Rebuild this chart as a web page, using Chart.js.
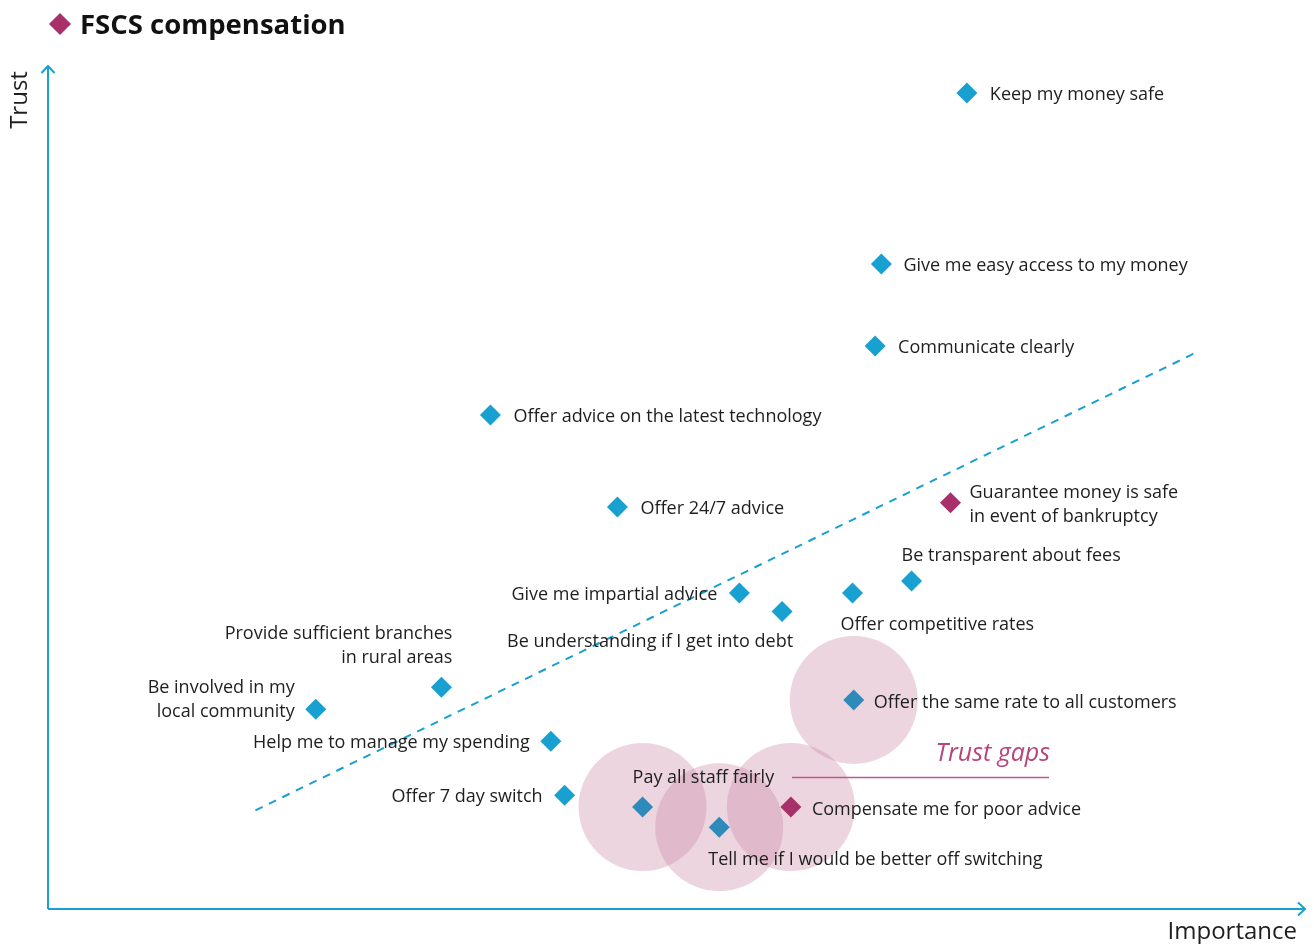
<!DOCTYPE html>
<html>
<head>
<meta charset="utf-8">
<title>FSCS compensation</title>
<script src="https://cdn.jsdelivr.net/npm/chart.js@4.4.1/dist/chart.umd.min.js"></script>
<style>
html, body { margin: 0; padding: 0; background: #fff; }
#wrap { width: 1314px; height: 944px; }
</style>
</head>
<body>
<div id="wrap"><canvas id="chart" width="1314" height="944"></canvas></div>
<script>
// statements (one per point)
const statements = [
    "Keep my money safe",
    "Give me easy access to my money",
    "Communicate clearly",
    "Offer advice on the latest technology",
    "Offer 24/7 advice",
    ["Guarantee money is safe", "in event of bankruptcy"],
    "Be transparent about fees",
    "Give me impartial advice",
    "Be understanding if I get into debt",
    "Offer competitive rates",
    ["Provide sufficient branches", "in rural areas"],
    ["Be involved in my", "local community"],
    "Help me to manage my spending",
    "Offer 7 day switch",
    "Offer the same rate to all customers",
    "Pay all staff fairly",
    "Tell me if I would be better off switching",
    "Compensate me for poor advice"
];
const importance = [73.1, 66.3, 65.8, 35.2, 45.3, 71.8, 68.7, 55.0, 58.4, 64.0, 31.3, 21.3, 40.0, 41.1, 64.1, 47.3, 53.4, 59.1];
const trust      = [96.8, 76.5, 66.8, 58.6, 47.7, 48.2, 38.9, 37.5, 35.3, 37.5, 26.3, 23.7, 19.9, 13.5, 24.8, 12.1,  9.7, 12.1];
const isFscs     = [false, false, false, false, false, true, false, false, false, false, false, false, false, false, false, false, false, true];
const isTrustGap = [false, false, false, false, false, false, false, false, false, false, false, false, false, false, true, true, true, true];

// dashed trend line
const trendImportance = [16.5, 91.6];
const trendTrust = [11.7, 66.2];

const BLUE = "#18a0d0";
const GAP_BLUE = "#2e8bb9";
const MAGENTA = "#a8306a";
const GAP_PINK = "#b8447c";
const TEXT = "#1e1e1e";
const FONT = "'Open Sans', 'DejaVu Sans', sans-serif";

// label placement relative to its point: [dx, dy of first line, align]
const labelPlace = [
    [23, 2, "left"],
    [22, 1.5, "left"],
    [23, 1.5, "left"],
    [23, 2, "left"],
    [23, 2, "left"],
    [19, -10, "left"],
    [-10, -25, "left"],
    [-22, 2, "right"],
    [11, 30, "right"],
    [-12, 32, "left"],
    [11, -53, "right"],
    [-21, -21, "right"],
    [-21, 1.5, "right"],
    [-22, 2, "right"],
    [20, 3, "left"],
    [-10, -29, "left"],
    [-11, 33, "left"],
    [21, 3, "left"]
];

const points = statements.map((s, i) => ({ x: importance[i], y: trust[i] }));
const gapPoints = points.filter((p, i) => isTrustGap[i]);
const pointColors = statements.map((s, i) => isFscs[i] ? MAGENTA : (isTrustGap[i] ? GAP_BLUE : BLUE));

const overlay = {
    id: "overlay",
    afterDraw(chart) {
        const ctx = chart.ctx;
        const area = chart.chartArea;
        ctx.save();

        // axes with open arrow heads
        ctx.strokeStyle = BLUE;
        ctx.lineWidth = 2;
        ctx.beginPath();
        ctx.moveTo(area.left, area.bottom);
        ctx.lineTo(area.left, area.top);
        ctx.moveTo(area.left - 6.5, area.top + 7);
        ctx.lineTo(area.left, area.top);
        ctx.lineTo(area.left + 6.5, area.top + 7);
        ctx.moveTo(area.left, area.bottom);
        ctx.lineTo(area.right, area.bottom);
        ctx.moveTo(area.right - 7, area.bottom - 6.5);
        ctx.lineTo(area.right, area.bottom);
        ctx.lineTo(area.right - 7, area.bottom + 6.5);
        ctx.stroke();

        // axis titles
        ctx.fillStyle = TEXT;
        ctx.font = "24px " + FONT;
        ctx.textBaseline = "middle";
        ctx.textAlign = "right";
        ctx.fillText("Importance", area.right - 8, area.bottom + 23);
        ctx.save();
        ctx.translate(20, 100);
        ctx.rotate(-Math.PI / 2);
        ctx.textAlign = "center";
        ctx.fillText("Trust", 0, 0);
        ctx.restore();

        // heading with diamond marker
        ctx.fillStyle = MAGENTA;
        ctx.beginPath();
        ctx.moveTo(60, 13);
        ctx.lineTo(71, 24);
        ctx.lineTo(60, 35);
        ctx.lineTo(49, 24);
        ctx.closePath();
        ctx.fill();
        ctx.fillStyle = "#111";
        ctx.font = "bold 27.5px " + FONT;
        ctx.textAlign = "left";
        ctx.fillText("FSCS compensation", 80, 26);

        // point labels
        const meta = chart.getDatasetMeta(2);
        ctx.font = "18px " + FONT;
        ctx.fillStyle = TEXT;
        meta.data.forEach((el, i) => {
            const [dx, dy, align] = labelPlace[i];
            const lines = Array.isArray(statements[i]) ? statements[i] : [statements[i]];
            ctx.textAlign = align;
            lines.forEach((line, j) => {
                ctx.fillText(line, el.x + dx, el.y + dy + j * 24);
            });
        });

        // trust gaps note
        ctx.fillStyle = GAP_PINK;
        ctx.font = "italic 25px " + FONT;
        ctx.textAlign = "right";
        ctx.fillText("Trust gaps", 1050, 754);
        ctx.strokeStyle = "#c0588e";
        ctx.lineWidth = 1.4;
        ctx.beginPath();
        ctx.moveTo(792, 777.5);
        ctx.lineTo(1049, 777.5);
        ctx.stroke();

        ctx.restore();
    }
};

new Chart(document.getElementById("chart"), {
    type: "scatter",
    data: {
        datasets: [
            {
                type: "bubble",
                data: gapPoints,
                radius: 64,
                backgroundColor: "rgba(203, 141, 168, 0.37)",
                borderWidth: 0,
                order: 3,
                clip: false
            },
            {
                data: trendImportance.map((x, i) => ({ x, y: trendTrust[i] })),
                showLine: true,
                borderColor: BLUE,
                borderWidth: 2,
                borderDash: [8, 7],
                pointRadius: 0,
                order: 2,
                clip: false
            },
            {
                data: points,
                pointStyle: "rectRot",
                pointRadius: 10.5,
                pointBackgroundColor: pointColors,
                pointBorderWidth: 0,
                order: 1,
                clip: false
            }
        ]
    },
    options: {
        responsive: false,
        animation: false,
        devicePixelRatio: 1,
        layout: { autoPadding: false, padding: { left: 48, right: 9, top: 66, bottom: 35 } },
        scales: {
            x: { type: "linear", min: 0, max: 100, display: false },
            y: { type: "linear", min: 0, max: 100, display: false }
        },
        plugins: {
            legend: { display: false },
            tooltip: { enabled: false }
        }
    },
    plugins: [overlay]
});
</script>
</body>
</html>
